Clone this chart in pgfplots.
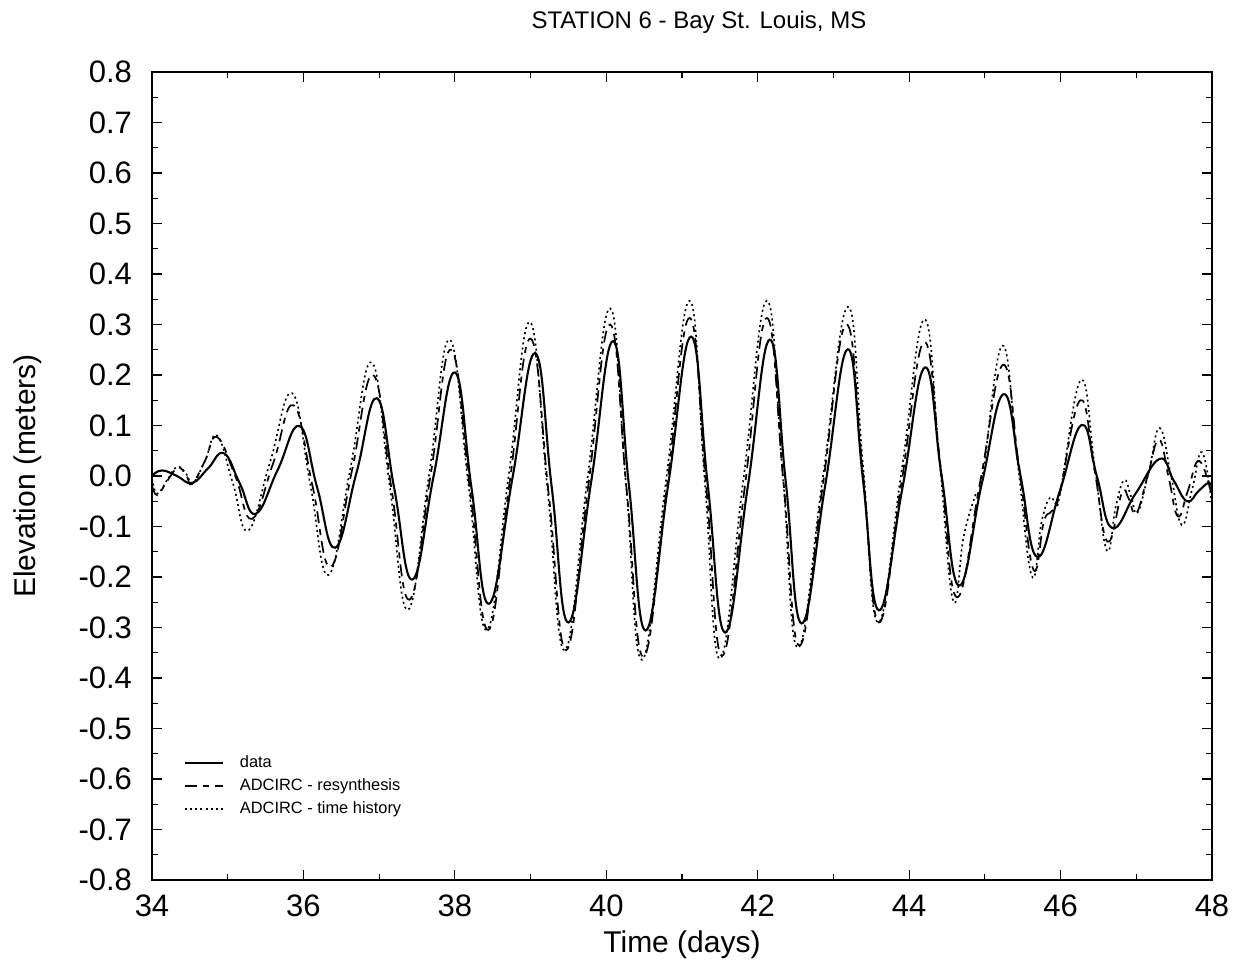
\documentclass[border=0pt]{standalone}
\usepackage{fontspec}
\setmainfont{Liberation Sans}
\usepackage{pgfplots}
\pgfplotsset{compat=1.18}

\begin{document}
\begin{tikzpicture}
\useasboundingbox (-76pt,-43.5pt) rectangle (543.5pt,440pt);
\begin{axis}[
  at={(0,0)}, anchor=south west,
  scale only axis, width=530pt, height=404pt,
  xmin=34, xmax=48, ymin=-0.8, ymax=0.8,
  xtick={34,36,38,40,42,44,46,48},
  xticklabels={34,36,38,40,42,44,46,48},
  minor xtick={35,37,39,41,43,45,47},
  ytick={-0.8,-0.7,-0.6,-0.5,-0.4,-0.3,-0.2,-0.1,0,0.1,0.2,0.3,0.4,0.5,0.6,0.7,0.8},
  yticklabels={-0.8,-0.7,-0.6,-0.5,-0.4,-0.3,-0.2,-0.1,0.0,0.1,0.2,0.3,0.4,0.5,0.6,0.7,0.8},
  minor ytick={-0.75,-0.65,-0.55,-0.45,-0.35,-0.25,-0.15,-0.05,0.05,0.15,0.25,0.35,0.45,0.55,0.65,0.75},
  tick align=inside,
  major tick length=5pt, minor tick length=3pt,
  every tick/.style={black, line width=0.6pt},
  axis line style={line width=0.8pt},
  ticklabel style={font=\fontsize{15.5}{17}\selectfont},
  xticklabel style={anchor=center, yshift=-13pt},
  yticklabel style={anchor=east, xshift=-6.5pt},
  xlabel={Time (days)},
  ylabel={Elevation (meters)},
  label style={font=\fontsize{15}{17}\selectfont},
  xlabel style={at={(axis description cs:0.5,-0.0804)}, anchor=center},
  ylabel style={at={(axis description cs:-0.117,0.5)}, anchor=center},
  title={STATION 6 - Bay St. Louis, MS},
  title style={at={(axis description cs:0.516,1.047)}, anchor=center, font=\fontsize{12}{14}\selectfont},
  legend style={at={(axis description cs:0.024,0.164)}, anchor=north west, draw=none, fill=none,
    font=\fontsize{8.2}{9}\selectfont, row sep=0pt, column sep=5pt, nodes={inner xsep=3pt}},
  legend cell align=left,
  legend image code/.code={\draw[#1] (0pt,0pt) -- (19pt,0pt);},
]
\addplot[black, line width=1.05pt, smooth, tension=0.75] coordinates {
(34.00,0.000) (34.13,0.011) (34.33,0.000) (34.53,-0.014) (34.74,0.015) (34.95,0.045)
(35.16,-0.015) (35.37,-0.075) (35.66,0.012) (35.95,0.099) (36.18,-0.022) (36.42,-0.142)
(36.70,0.006) (36.97,0.154) (37.20,-0.025) (37.44,-0.205) (37.72,0.000) (38.00,0.205)
(38.22,-0.024) (38.45,-0.253) (38.76,-0.005) (39.06,0.243) (39.28,-0.023) (39.50,-0.290)
(39.80,-0.012) (40.09,0.267) (40.30,-0.020) (40.52,-0.306) (40.82,-0.015) (41.12,0.276)
(41.34,-0.017) (41.57,-0.310) (41.87,-0.020) (42.16,0.270) (42.37,-0.011) (42.58,-0.292)
(42.89,-0.020) (43.19,0.251) (43.39,-0.007) (43.60,-0.266) (43.91,-0.025) (44.21,0.215)
(44.43,-0.001) (44.66,-0.217) (44.96,-0.015) (45.25,0.162) (45.47,0.001) (45.69,-0.160)
(45.99,-0.030) (46.28,0.101) (46.48,-0.001) (46.68,-0.103) (46.99,-0.035) (47.31,0.034)
(47.49,-0.008) (47.67,-0.050) (47.82,-0.030) (47.95,-0.014) (48.00,-0.022)
};
\addlegendentry{data}
\addplot[black, line width=0.85pt, dash pattern=on 6pt off 3pt on 3pt off 3pt, smooth, tension=0.75] coordinates {
(34.00,-0.018) (34.07,-0.038) (34.20,-0.010) (34.34,0.016) (34.45,0.002) (34.53,-0.016)
(34.70,0.030) (34.86,0.077) (35.10,0.000) (35.32,-0.085) (35.60,0.025) (35.87,0.140)
(36.12,-0.020) (36.36,-0.180) (36.64,0.010) (36.92,0.200) (37.16,-0.022) (37.40,-0.245)
(37.68,0.002) (37.95,0.250) (38.20,-0.027) (38.44,-0.305) (38.72,-0.016) (39.00,0.272)
(39.24,-0.036) (39.47,-0.345) (39.76,-0.022) (40.05,0.300) (40.27,-0.029) (40.49,-0.358)
(40.80,-0.022) (41.10,0.313) (41.32,-0.022) (41.53,-0.356) (41.83,-0.021) (42.12,0.313)
(42.34,-0.012) (42.55,-0.336) (42.86,-0.018) (43.17,0.300) (43.39,0.005) (43.60,-0.290)
(43.90,-0.012) (44.20,0.265) (44.42,0.012) (44.63,-0.240) (44.94,-0.010) (45.24,0.220)
(45.45,0.020) (45.64,-0.185) (45.78,-0.090) (45.88,-0.070) (45.98,-0.040) (46.26,0.150)
(46.45,0.010) (46.62,-0.130) (46.81,-0.034) (46.90,-0.045) (47.00,-0.074) (47.15,0.000)
(47.30,0.072) (47.43,-0.005) (47.55,-0.080) (47.68,-0.030) (47.83,0.030) (48.00,-0.040)
};
\addlegendentry{ADCIRC - resynthesis}
\addplot[black, line width=0.8pt, dash pattern=on 1pt off 1.6pt, smooth, tension=0.75] coordinates {
(34.00,-0.005) (34.07,-0.035) (34.20,-0.008) (34.33,0.018) (34.45,0.005) (34.54,-0.014)
(34.70,0.030) (34.86,0.080) (35.07,-0.015) (35.27,-0.108) (35.56,0.028) (35.85,0.164)
(36.09,-0.016) (36.33,-0.196) (36.62,0.015) (36.90,0.225) (37.14,-0.020) (37.38,-0.265)
(37.66,0.003) (37.93,0.270) (38.18,-0.018) (38.42,-0.305) (38.71,0.000) (38.99,0.305)
(39.22,-0.020) (39.45,-0.345) (39.75,-0.007) (40.05,0.332) (40.26,-0.016) (40.47,-0.364)
(40.79,-0.008) (41.10,0.347) (41.30,-0.008) (41.50,-0.362) (41.81,-0.008) (42.12,0.347)
(42.33,0.004) (42.53,-0.340) (42.86,-0.003) (43.19,0.335) (43.39,0.023) (43.59,-0.290)
(43.90,0.010) (44.20,0.310) (44.40,0.032) (44.58,-0.246) (44.72,-0.120) (44.87,-0.040)
(44.97,0.000) (45.23,0.258) (45.43,0.030) (45.62,-0.198) (45.75,-0.090) (45.86,-0.043)
(45.94,-0.055) (46.00,-0.030) (46.27,0.190) (46.45,0.020) (46.61,-0.147) (46.73,-0.060)
(46.84,-0.008) (46.93,-0.040) (47.02,-0.072) (47.17,0.012) (47.31,0.095) (47.46,0.000)
(47.60,-0.097) (47.74,-0.025) (47.87,0.047) (48.00,-0.058)
};
\addlegendentry{ADCIRC - time history}
\end{axis}
\end{tikzpicture}
\end{document}
